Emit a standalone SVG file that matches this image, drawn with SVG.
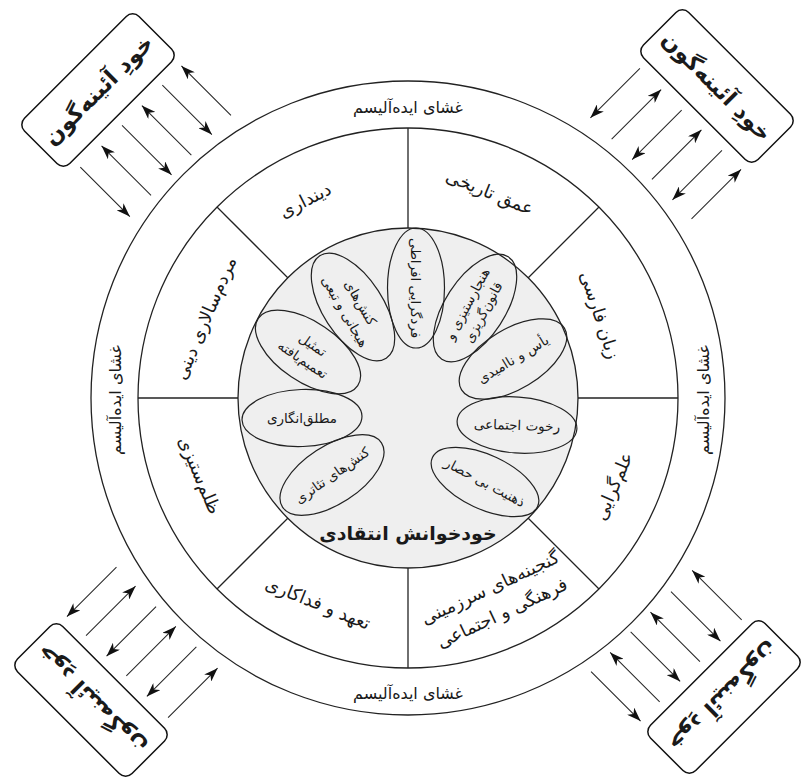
<svg xmlns="http://www.w3.org/2000/svg" width="803" height="782" viewBox="0 0 803 782">
<style>
.ln{stroke:#222;stroke-width:1.3;fill:none}
.t{font-family:'DejaVu Sans',sans-serif;fill:#1a1a1a;text-anchor:middle;dominant-baseline:central}
.ring{font-size:16px}
.sec{font-size:18px}
.el{font-size:13.5px}
.ttl{font-size:19px;font-weight:bold}
.bx rect{fill:#fff;stroke:#111;stroke-width:1.5}
.bx text{font-size:22.5px;font-weight:bold}
.ov{fill:none;stroke:#222;stroke-width:1.2}
.ar{stroke:#222;stroke-width:1;marker-end:url(#ah)}
</style>
<defs>
<marker id="ah" markerUnits="userSpaceOnUse" markerWidth="14" markerHeight="10" refX="14" refY="5" orient="auto">
<path d="M0,0 L14,5 L0,10 L4,5 Z" fill="#111"/>
</marker>
</defs>
<rect width="803" height="782" fill="#fff"/>

<g id="wheel">
<circle class="ln" cx="408" cy="398" r="317"/>
<circle class="ln" cx="408" cy="398" r="270"/>
<circle cx="408" cy="398" r="170" fill="#efefef" stroke="#222" stroke-width="1.3"/>
<line class="ln" x1="408" y1="128" x2="408" y2="228"/>
<line class="ln" x1="408" y1="568" x2="408" y2="668"/>
<line class="ln" x1="138" y1="398" x2="238" y2="398"/>
<line class="ln" x1="578" y1="398" x2="678" y2="398"/>
<line class="ln" x1="217" y1="207" x2="288" y2="278"/>
<line class="ln" x1="599" y1="207" x2="528" y2="278"/>
<line class="ln" x1="217" y1="589" x2="288" y2="518"/>
<line class="ln" x1="599" y1="589" x2="528" y2="518"/>
</g>

<g id="ring-labels">
<text class="t ring" x="408" y="107">غشای ایده&#x200C;آلیسم</text>
<text class="t ring" x="408" y="693">غشای ایده&#x200C;آلیسم</text>
<text class="t ring" transform="translate(115,400) rotate(-90)">غشای ایده&#x200C;آلیسم</text>
<text class="t ring" transform="translate(703,400) rotate(-90)">غشای ایده&#x200C;آلیسم</text>
</g>

<g id="sectors">
<text class="t sec" transform="translate(305,200) rotate(-27)">دینداری</text>
<text class="t sec" transform="translate(490,192) rotate(22)">عمق تاریخی</text>
<text class="t sec" transform="translate(600,315) rotate(72)">زبان فارسی</text>
<text class="t sec" transform="translate(613,486) rotate(-67)">علم&#x200C;گرایی</text>
<g transform="translate(496,600) rotate(-25)">
<text class="t sec" y="-14">گنجینه&#x200C;های سرزمینی</text>
<text class="t sec" y="14">فرهنگی و اجتماعی</text>
</g>
<text class="t sec" transform="translate(318,603) rotate(22)">تعهد و فداکاری</text>
<text class="t sec" transform="translate(200,475) rotate(67)">ظلم&#x200C;ستیزی</text>
<text class="t sec" transform="translate(205,318) rotate(-67)">مردم&#x200C;سالاری دینی</text>
</g>

<g id="petal-1" transform="translate(416,288)">
<ellipse class="ov" rx="60" ry="28.5" transform="rotate(90)"/>
<text class="t el" transform="rotate(90)">فردگرایی افراطی</text>
</g>
<g id="petal-2" transform="translate(475,308)">
<ellipse class="ov" rx="61" ry="30" transform="rotate(-57)"/>
<g transform="rotate(-62)">
<text class="t el" y="-9">هنجارستیزی و</text>
<text class="t el" y="9">قانون&#x200C;گریزی</text>
</g>
</g>
<g id="petal-3" transform="translate(513,359)">
<ellipse class="ov" rx="60" ry="30" transform="rotate(-31)"/>
<text class="t el" transform="rotate(-31)">یأس و ناامیدی</text>
</g>
<g id="petal-4" transform="translate(517,425)">
<ellipse class="ov" rx="60" ry="28" transform="rotate(4)"/>
<text class="t el" transform="rotate(2)">رخوت اجتماعی</text>
</g>
<g id="petal-5" transform="translate(485,482)">
<ellipse class="ov" rx="58" ry="27" transform="rotate(25)"/>
<text class="t el" transform="rotate(28)">ذهنیت بی حصار</text>
</g>
<g id="petal-6" transform="translate(332,475)">
<ellipse class="ov" rx="59" ry="29" transform="rotate(-33)"/>
<text class="t el" transform="rotate(-35)">کنش&#x200C;های تئاتری</text>
</g>
<g id="petal-7" transform="translate(302,418)">
<ellipse class="ov" rx="60" ry="28.5" transform="rotate(-2)"/>
<text class="t el">مطلق&#x200C;انگاری</text>
</g>
<g id="petal-8" transform="translate(308,352)">
<ellipse class="ov" rx="60" ry="30" transform="rotate(34)"/>
<g transform="rotate(34)">
<text class="t el" y="-9">تمثیل</text>
<text class="t el" y="9">تعمیم&#x200C;یافته</text>
</g>
</g>
<g id="petal-9" transform="translate(353,307)">
<ellipse class="ov" rx="61" ry="30" transform="rotate(57)"/>
<g transform="rotate(60)">
<text class="t el" y="-9">کنش&#x200C;های</text>
<text class="t el" y="9">هیجانی و تبعی</text>
</g>
</g>

<g id="title">
<text class="t ttl" x="408" y="533">خودخوانش انتقادی</text>
</g>

<g id="box-tl" class="bx" transform="translate(98,90) rotate(-45)">
<rect x="-81" y="-32" width="162" height="64" rx="9"/>
<text class="t">خودِ آئینه&#x200C;گون</text>
</g>
<g id="box-tr" class="bx" transform="translate(717,86) rotate(45)">
<rect x="-81" y="-32" width="162" height="64" rx="9"/>
<text class="t">خودِ آئینه&#x200C;گون</text>
</g>
<g id="box-bl" class="bx" transform="translate(91,700) rotate(-135)">
<rect x="-81" y="-32" width="162" height="64" rx="9"/>
<text class="t">خودِ آئینه&#x200C;گون</text>
</g>
<g id="box-br" class="bx" transform="translate(724,697) rotate(135)">
<rect x="-81" y="-32" width="162" height="64" rx="9"/>
<text class="t">خودِ آئینه&#x200C;گون</text>
</g>

<g id="connectors">
<g transform="translate(98,90) rotate(-45)">
<line class="ar" x1="76" y1="112" x2="76" y2="42"/>
<line class="ar" x1="49" y1="42" x2="49" y2="112"/>
<line class="ar" x1="20" y1="112" x2="20" y2="42"/>
<line class="ar" x1="-8" y1="42" x2="-8" y2="112"/>
<line class="ar" x1="-37" y1="112" x2="-37" y2="42"/>
<line class="ar" x1="-67" y1="42" x2="-67" y2="112"/>
</g>
<g transform="translate(717,86) rotate(45)">
<line class="ar" x1="76" y1="112" x2="76" y2="42"/>
<line class="ar" x1="49" y1="42" x2="49" y2="112"/>
<line class="ar" x1="20" y1="112" x2="20" y2="42"/>
<line class="ar" x1="-8" y1="42" x2="-8" y2="112"/>
<line class="ar" x1="-37" y1="112" x2="-37" y2="42"/>
<line class="ar" x1="-67" y1="42" x2="-67" y2="112"/>
</g>
<g transform="translate(91,700) rotate(-135)">
<line class="ar" x1="76" y1="112" x2="76" y2="42"/>
<line class="ar" x1="49" y1="42" x2="49" y2="112"/>
<line class="ar" x1="20" y1="112" x2="20" y2="42"/>
<line class="ar" x1="-8" y1="42" x2="-8" y2="112"/>
<line class="ar" x1="-37" y1="112" x2="-37" y2="42"/>
<line class="ar" x1="-67" y1="42" x2="-67" y2="112"/>
</g>
<g transform="translate(724,697) rotate(135)">
<line class="ar" x1="76" y1="112" x2="76" y2="42"/>
<line class="ar" x1="49" y1="42" x2="49" y2="112"/>
<line class="ar" x1="20" y1="112" x2="20" y2="42"/>
<line class="ar" x1="-8" y1="42" x2="-8" y2="112"/>
<line class="ar" x1="-37" y1="112" x2="-37" y2="42"/>
<line class="ar" x1="-67" y1="42" x2="-67" y2="112"/>
</g>
</g>
</svg>
